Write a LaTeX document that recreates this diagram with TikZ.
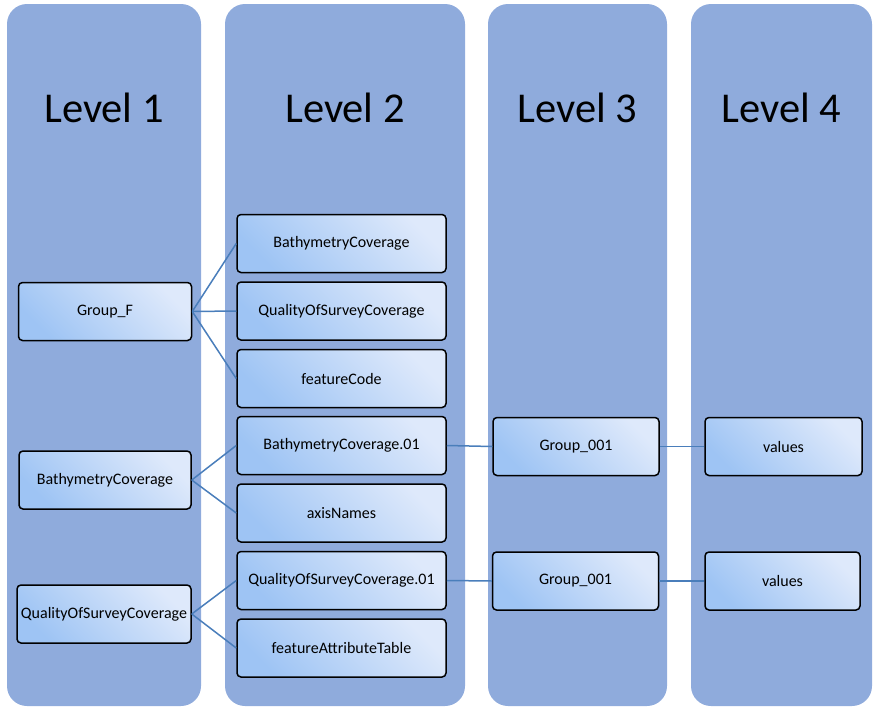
\documentclass[tikz,border=0pt]{standalone}
\usepackage{fontspec}
\setmainfont{Carlito}
\usetikzlibrary{positioning}
\definecolor{colfill}{RGB}{143,171,220}
\definecolor{boxlight}{RGB}{222,233,251}
\definecolor{boxdark}{RGB}{158,196,244}
\definecolor{linkblue}{RGB}{74,126,187}

\begin{document}
\begin{tikzpicture}[x=1pt, y=-1pt,
    column/.style={fill=colfill, rounded corners=20pt},
    title/.style={font=\fontsize{42.5}{48}\selectfont},
    box/.style={draw, line width=1.5pt, rounded corners=4pt, top color=boxlight, bottom color=boxdark, shading angle=-45, minimum height=58pt, font=\fontsize{16}{18}\selectfont, inner sep=0pt},
    link/.style={draw=linkblue, line width=1.5pt}]
    \useasboundingbox (0,0) rectangle (883,712);
    % columns
    \fill[column] (7,4) rectangle (201,706);
    \fill[column] (225,4) rectangle (465,706);
    \fill[column] (488,4) rectangle (667,706);
    \fill[column] (691,4) rectangle (872,706);
    \node[title] (T1) at (104,108) {Level 1};
    \node[title] (T2) at (345,108) {Level 2};
    \node[title] (T3) at (577.5,108) {Level 3};
    \node[title] (T4) at (781.5,108) {Level 4};

    % level 1
    \node[box, minimum width=173pt] (GF) at (105,311.5) {Group\_F};
    \node[box, minimum width=172pt] (BC) at (105,480) {BathymetryCoverage};
    \node[box, minimum width=174pt] (QC) at (104,614) {QualityOfSurveyCoverage};

    % level 2
    \node[box, minimum width=209pt] (BC2) at (341.5,243.5) {BathymetryCoverage};
    \node[box, minimum width=209pt] (QC2) at (341.5,311) {QualityOfSurveyCoverage};
    \node[box, minimum width=209pt] (FC) at (341.5,378.5) {featureCode};
    \node[box, minimum width=209pt] (BC01) at (341.5,445.5) {BathymetryCoverage.01};
    \node[box, minimum width=209pt] (AN) at (341.5,513) {axisNames};
    \node[box, minimum width=209pt] (QC01) at (341.5,580.5) {QualityOfSurveyCoverage.01};
    \node[box, minimum width=209pt] (FAT) at (341.5,648) {featureAttributeTable};

    % level 3 and 4
    \node[box, minimum width=166pt] (G1) at (576,446.5) {Group\_001};
    \node[box, minimum width=166pt] (G2) at (575.5,581) {Group\_001};
    \node[box, minimum width=157pt] (V1) at (783.5,446.5) {values};
    \node[box, minimum width=155pt] (V2) at (782.5,581) {values};

    \draw[link] (GF.east) -- (BC2.west);
    \draw[link] (GF.east) -- (QC2.west);
    \draw[link] (GF.east) -- (FC.west);
    \draw[link] (BC.east) -- (BC01.west);
    \draw[link] (BC.east) -- (AN.west);
    \draw[link] (QC.east) -- (QC01.west);
    \draw[link] (QC.east) -- (FAT.west);
    \draw[link] (BC01.east) -- (G1.west);
    \draw[link] (G1.east) -- (V1.west);
    \draw[link] (QC01.east) -- (G2.west);
    \draw[link] (G2.east) -- (V2.west);
\end{tikzpicture}
\end{document}
